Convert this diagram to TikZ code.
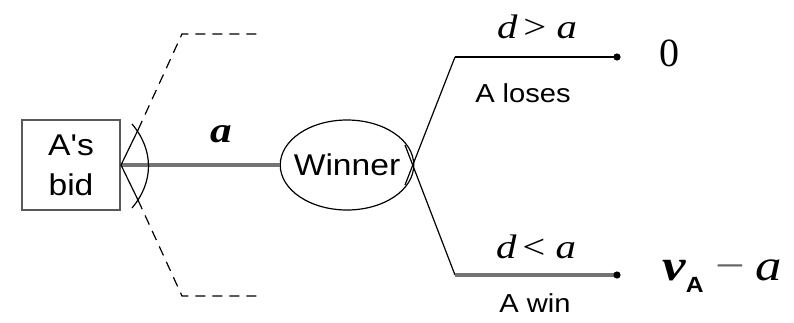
\documentclass[tikz,border=0pt]{standalone}
\usepackage{fontspec}
\setmainfont{Liberation Serif}
\newfontfamily\lblfont[FakeStretch=1.12]{Liberation Sans}
\newfontfamily\mathfont[FakeStretch=1.2]{Liberation Serif}
\usetikzlibrary{shapes.geometric}

\begin{document}
\begin{tikzpicture}[x=0.5pt,y=-0.5pt,
    lbl/.style={font=\lblfont\fontsize{15}{20}\selectfont},
    small/.style={font=\lblfont\fontsize{13}{15}\selectfont, anchor=base},
    cond/.style={font=\mathfont\fontsize{17}{20}\selectfont\itshape, anchor=base},
    edge/.style={draw=black, line width=0.6pt},
    pathline/.style={draw=black!55, line width=1.7pt}]
    \useasboundingbox (0,0) rectangle (794,322);
    % decision box and chance node
    \node [lbl, draw=black!65, line width=1pt, minimum width=49pt, minimum height=45pt,
           inner sep=0pt, align=center] (bid) at (71,165) {A's\\bid};
    \node [lbl, ellipse, edge, minimum width=65.5pt, minimum height=45pt,
           inner xsep=-3pt, inner ysep=0pt] (win) at (347,165) {Winner};
    % the chosen bid
    \draw [pathline] (bid.east) -- (win.west);
    \node [cond, font=\mathfont\fontsize{18}{20}\selectfont\bfseries\itshape] (lbla) at (221,142) {a};
    % range of other bids
    \coordinate (aU) at (138,130);
    \coordinate (cU) at (182,34);
    \coordinate (eU) at (260,34);
    \coordinate (aL) at (138,200);
    \coordinate (cL) at (182,296);
    \coordinate (eL) at (260,296);
    \draw [edge] (bid.east) -- (aU);
    \draw [edge] (bid.east) -- (aL);
    \draw [edge] (132,124) .. controls (154,150) and (154,182) .. (132,208);
    \draw [edge, dash pattern=on 5pt off 3.5pt] (aU) -- (cU) -- (eU);
    \draw [edge, dash pattern=on 5pt off 3.5pt] (aL) -- (cL) -- (eL);
    % outcomes
    \coordinate (sU) at (405,185);
    \coordinate (kU) at (455,57);
    \coordinate (dU) at (617,57);
    \coordinate (sL) at (405,145);
    \coordinate (kL) at (455,275);
    \coordinate (dL) at (617,275);
    \draw [edge] (sU) -- (kU);
    \draw [edge, line width=0.9pt] (kU) -- (dU);
    \draw [edge] (sL) -- (kL);
    \draw [pathline] (kL) -- (dL);
    \fill (dU) circle [radius=1.8pt];
    \fill (dL) circle [radius=1.8pt];
    \node [cond] (gt) at (537,38) {d\hspace{3pt}\upshape>\hspace{5pt}\itshape a};
    \node [small] (lose) at (523,102) {A loses};
    \node [cond] (lt) at (536,258) {d\hspace{3pt}\upshape<\hspace{5pt}\itshape a};
    \node [small] (wins) at (535,312) {A win};
    \node [font=\fontsize{20}{22}\selectfont, anchor=base] (pay0) at (669,66) {0};
    \node [font=\mathfont\fontsize{22}{24}\selectfont, anchor=base west, inner sep=0pt] (payA) at (662,280)
          {\bfseries\itshape v\raisebox{-6pt}{\upshape\lblfont\fontsize{11}{12}\selectfont A}\hspace{6pt}\mdseries\upshape{\color{black!60}−}\hspace{5pt}\itshape a};
\end{tikzpicture}
\end{document}
